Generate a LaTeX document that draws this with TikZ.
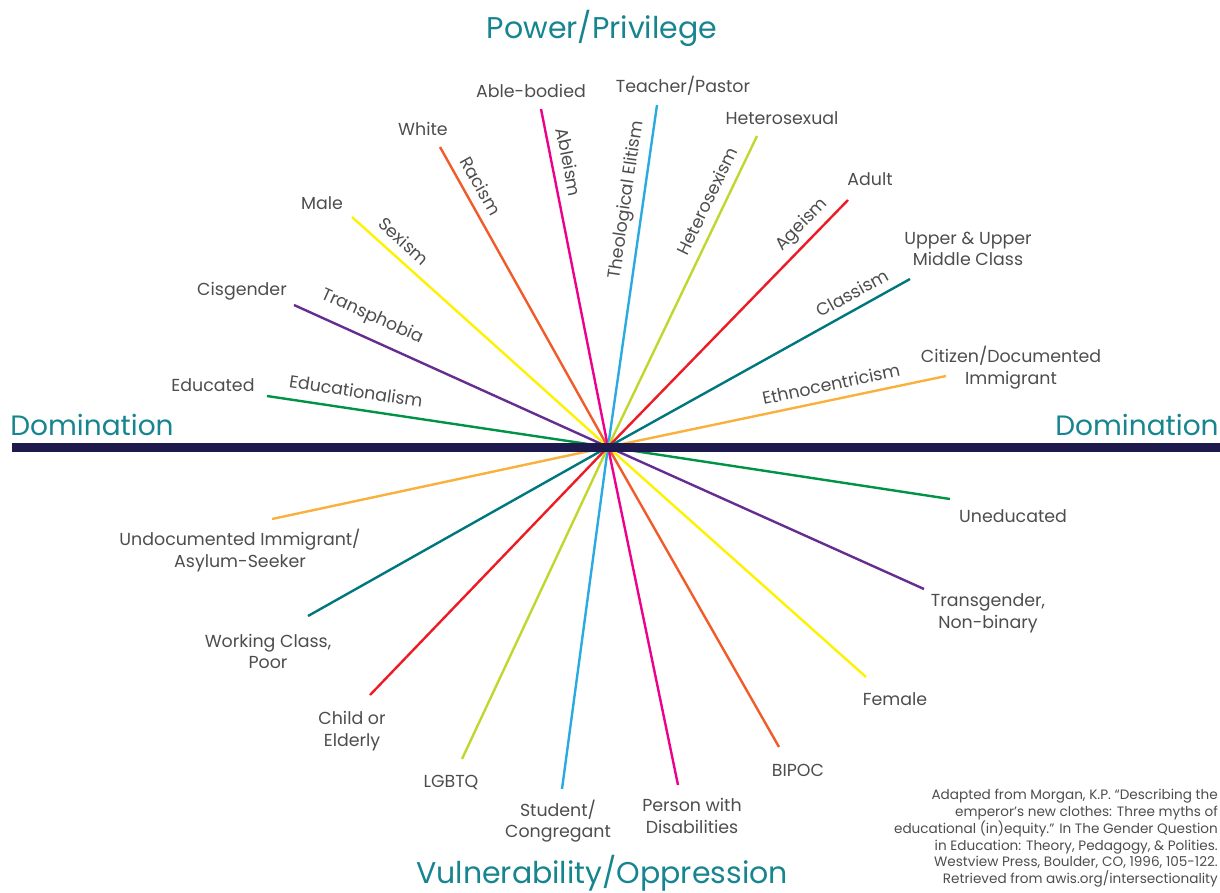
\documentclass[tikz,border=0pt]{standalone}
\usepackage{fontspec}
\setmainfont{Poppins}
\definecolor{txt}{HTML}{4D4D4D}
\definecolor{ttl}{HTML}{17858F}
\definecolor{bar}{HTML}{1F1A4E}
\definecolor{cgreen}{HTML}{009245}
\definecolor{cpurple}{HTML}{662D91}
\definecolor{cyellow}{HTML}{FFF200}
\definecolor{corange}{HTML}{F15A29}
\definecolor{cmagenta}{HTML}{EC008C}
\definecolor{cblue}{HTML}{29ABE2}
\definecolor{clime}{HTML}{C1D72E}
\definecolor{cred}{HTML}{ED1C24}
\definecolor{cteal}{HTML}{00777E}
\definecolor{cgold}{HTML}{FBB03B}
\begin{document}
\begin{tikzpicture}[x=1pt,y=-1pt,
  lbl/.style={text=txt,font=\fontsize{17.4}{21.5}\selectfont,align=center,inner sep=0pt},
  isml/.style={text=txt,font=\fontsize{17.4}{21}\selectfont,inner sep=0pt},
  ttlstyle/.style={text=ttl,font=\fontsize{28}{34}\selectfont,inner sep=0pt},
  bigttl/.style={text=ttl,font=\fontsize{30}{34}\selectfont,inner sep=0pt},
  ray/.style={line width=2.4pt}]
\useasboundingbox (0,0) rectangle (1220,892);
\coordinate (c) at (608,447);
% endpoints
\coordinate (eEdu) at (267,396);   \coordinate (eUned) at (950,499);
\coordinate (eCis) at (294,305);   \coordinate (eTrans) at (924,589);
\coordinate (eMale) at (352,217);  \coordinate (eFem) at (866,677);
\coordinate (eWhite) at (440,147); \coordinate (eBipoc) at (779,747);
\coordinate (eAble) at (541,109);  \coordinate (eDis) at (678,785);
\coordinate (eTeach) at (657,105); \coordinate (eStud) at (562,789);
\coordinate (eHet) at (757,136);   \coordinate (eLgb) at (462,759);
\coordinate (eAdult) at (848,200); \coordinate (eChild) at (370,695);
\coordinate (eUpper) at (910,279); \coordinate (eWork) at (308,616);
\coordinate (eCit) at (946,376);   \coordinate (eUndoc) at (272,519);
\coordinate (bl) at (12,447.5); \coordinate (br) at (1220,447.5);
% rays
\draw[ray,cgreen] (eEdu) -- (c) -- (eUned);
\draw[ray,cpurple] (eCis) -- (c) -- (eTrans);
\draw[ray,cyellow] (eMale) -- (c) -- (eFem);
\draw[ray,corange] (eWhite) -- (c) -- (eBipoc);
\draw[ray,cmagenta] (eAble) -- (c) -- (eDis);
\draw[ray,cblue] (eTeach) -- (c) -- (eStud);
\draw[ray,clime] (eHet) -- (c) -- (eLgb);
\draw[ray,cred] (eAdult) -- (c) -- (eChild);
\draw[ray,cteal] (eUpper) -- (c) -- (eWork);
\draw[ray,cgold] (eCit) -- (c) -- (eUndoc);
\draw[bar,line width=9pt] (bl) -- (br);
% titles
\node[bigttl] (tPow) at (602,28) {Power/Privilege};
\node[bigttl] (tVul) at (602,873) {Vulnerability/Oppression};
\node[ttlstyle] (tDomL) at (92,425) {Domination};
\node[ttlstyle] (tDomR) at (1137,425) {Domination};
% -isms
\node[isml,rotate=-8.5] (iEdu) at (356,391) {Educationalism};
\node[isml,rotate=-24.3] (iTrans) at (372,317) {Transphobia};
\node[isml,rotate=-41.9] (iSex) at (404,241) {Sexism};
\node[isml,rotate=-60.75] (iRac) at (481,186) {Racism};
\node[isml,rotate=-78.8] (iAbl) at (569,162) {Ableism};
\node[isml,rotate=81.85] (iTheo) at (627,200) {Theological Elitism};
\node[isml,rotate=64.4] (iHet) at (707,201) {Heterosexism};
\node[isml,rotate=45.8] (iAge) at (802,225) {Ageism};
\node[isml,rotate=29.1] (iCla) at (852,293) {Classism};
\node[isml,rotate=11.9] (iEth) at (831,384) {Ethnocentricism};
% end labels
\node[lbl] (lEdu) at (213,385) {Educated};
\node[lbl] (lCis) at (242,291) {Cisgender};
\node[lbl] (lMale) at (322,203) {Male};
\node[lbl] (lWhite) at (423,129) {White};
\node[lbl] (lAble) at (531,91) {Able-bodied};
\node[lbl] (lTeach) at (683,86) {Teacher/Pastor};
\node[lbl] (lHet) at (782,118) {Heterosexual};
\node[lbl] (lAdult) at (870,179) {Adult};
\node[lbl] (lUpper) at (968,249) {Upper \& Upper\\Middle Class};
\node[lbl] (lCit) at (1011,367.5) {Citizen/Documented\\Immigrant};
\node[lbl] (lUndoc) at (240,550.5) {Undocumented Immigrant/\\Asylum-Seeker};
\node[lbl] (lWork) at (268,651.5) {Working Class,\\Poor};
\node[lbl] (lChild) at (352,731) {Child or\\Elderly};
\node[lbl] (lLgb) at (451,783) {LGBTQ};
\node[lbl] (lStud) at (558,821) {Student/\\Congregant};
\node[lbl] (lDis) at (692,816) {Person with\\Disabilities};
\node[lbl] (lBipoc) at (798,770) {BIPOC};
\node[lbl] (lFem) at (895,699) {Female};
\node[lbl] (lTrans) at (988,613.5) {Transgender,\\Non-binary};
\node[lbl] (lUned) at (1013,516) {Uneducated};
% citation
\node[text=txt,font=\fontsize{13.6}{16.8}\selectfont,align=right,inner sep=0pt,anchor=north east] (cite) at (1218,789)
{Adapted from Morgan, K.P. “Describing the\\emperor’s new clothes: Three myths of\\educational (in)equity.” In The Gender Question\\in Education: Theory, Pedagogy, \& Polities.\\Westview Press, Boulder, CO, 1996, 105-122.\\Retrieved from awis.org/intersectionality};
\end{tikzpicture}
\end{document}
